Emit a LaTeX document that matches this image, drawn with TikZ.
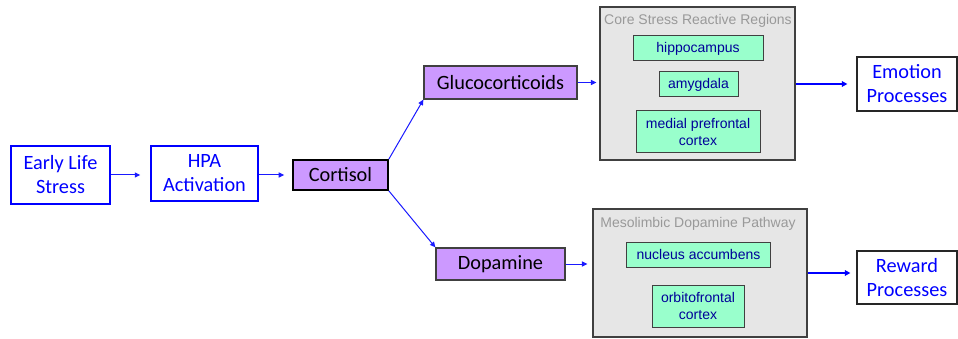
\documentclass[tikz,border=0pt]{standalone}
\usepackage{fontspec}
\setmainfont{Carlito}
\newfontfamily\arialf{Liberation Sans}
\usetikzlibrary{arrows.meta}
\definecolor{purp}{HTML}{CC99FF}
\definecolor{mint}{HTML}{99FFCC}
\definecolor{navy}{HTML}{000099}
\definecolor{boxgray}{HTML}{E6E6E6}
\definecolor{titlegray}{HTML}{999999}
\definecolor{arrblue}{HTML}{1A1AFF}
\tikzset{
  base/.style={inner sep=0pt, align=center, font=\fontsize{20.3}{24}\selectfont},
  bluebox/.style={base, draw=blue, line width=1.5pt, fill=white, text=blue},
  whitebox/.style={base, draw=black!85, line width=1.2pt, fill=white, text=blue},
  purpbox/.style={base, draw=black!75, line width=1.2pt, fill=purp, text=black},
  regionbox/.style={draw=black!75, line width=1.1pt, fill=boxgray, inner sep=0pt},
  greenbox/.style={inner sep=0pt, align=center, draw=black!75, line width=1pt, fill=mint, text=navy, font=\arialf\fontsize{14}{16.5}\selectfont},
  regtitle/.style={inner sep=0pt, text=titlegray, font=\arialf\fontsize{14}{16}\selectfont},
  arr/.style={draw=arrblue, line width=1pt, -{Triangle[length=5.5pt,width=5pt]}},
  arrthick/.style={draw=blue, line width=1.8pt, -{Triangle[length=5.5pt,width=5.5pt]}}
}
\begin{document}
\begin{tikzpicture}[x=1pt,y=-1pt]
\useasboundingbox[fill=white] (0,0) rectangle (958,339);
\node[bluebox, minimum width=99pt, minimum height=58pt] (els) at (60.5,175) {Early Life\\Stress};
\node[bluebox, minimum width=107pt, minimum height=55pt] (hpa) at (204.5,173.5) {HPA\\Activation};
\node[purpbox, draw=black, line width=1.6pt, minimum width=95pt, minimum height=30pt] (cort) at (340.5,175) {Cortisol};
\node[purpbox, minimum width=153pt, minimum height=33pt] (gluc) at (500.5,82.5) {Glucocorticoids};
\node[purpbox, minimum width=129pt, minimum height=32pt] (dopa) at (500.5,264) {Dopamine};
\node[regionbox, minimum width=195pt, minimum height=153pt] (core) at (697.5,83.5) {};
\node[regtitle, anchor=north] (coret) at (698,14.5) {Core Stress Reactive Regions};
\node[greenbox, minimum width=130pt, minimum height=25pt] (hip) at (698,48.5) {hippocampus};
\node[greenbox, minimum width=79pt, minimum height=25pt] (amy) at (698.5,84.5) {amygdala};
\node[greenbox, minimum width=124pt, minimum height=42pt] (mpfc) at (698,132) {medial prefrontal\\cortex};
\node[regionbox, minimum width=214pt, minimum height=128pt] (meso) at (700,273) {};
\node[regtitle, anchor=north] (mesot) at (698,217.5) {Mesolimbic Dopamine Pathway};
\node[greenbox, minimum width=144pt, minimum height=25pt] (nacc) at (698.5,254.5) {nucleus accumbens};
\node[greenbox, minimum width=92pt, minimum height=42pt] (ofc) at (698,306) {orbitofrontal\\cortex};
\node[whitebox, minimum width=100pt, minimum height=54pt] (emo) at (907,84) {Emotion\\Processes};
\node[whitebox, minimum width=100pt, minimum height=53pt] (rew) at (907,277.5) {Reward\\Processes};
\draw[arr, shorten >=10pt] (els.east) -- (hpa.west |- els.east);
\draw[arr, shorten >=8pt] (hpa.east |- cort.west) -- (cort.west);
\draw[arr] (cort.north east) -- (gluc.south west);
\draw[arr] (cort.south east) -- (dopa.north west);
\draw[arr, shorten >=3pt] (gluc.east) -- (core.west |- gluc.east);
\draw[arr, shorten >=5pt] (dopa.east) -- (meso.west |- dopa.east);
\draw[arrthick, shorten >=9pt] (core.east |- emo.west) -- (emo.west);
\draw[arrthick, shorten >=6pt] (meso.east) -- (rew.west |- meso.east);
\end{tikzpicture}
\end{document}
